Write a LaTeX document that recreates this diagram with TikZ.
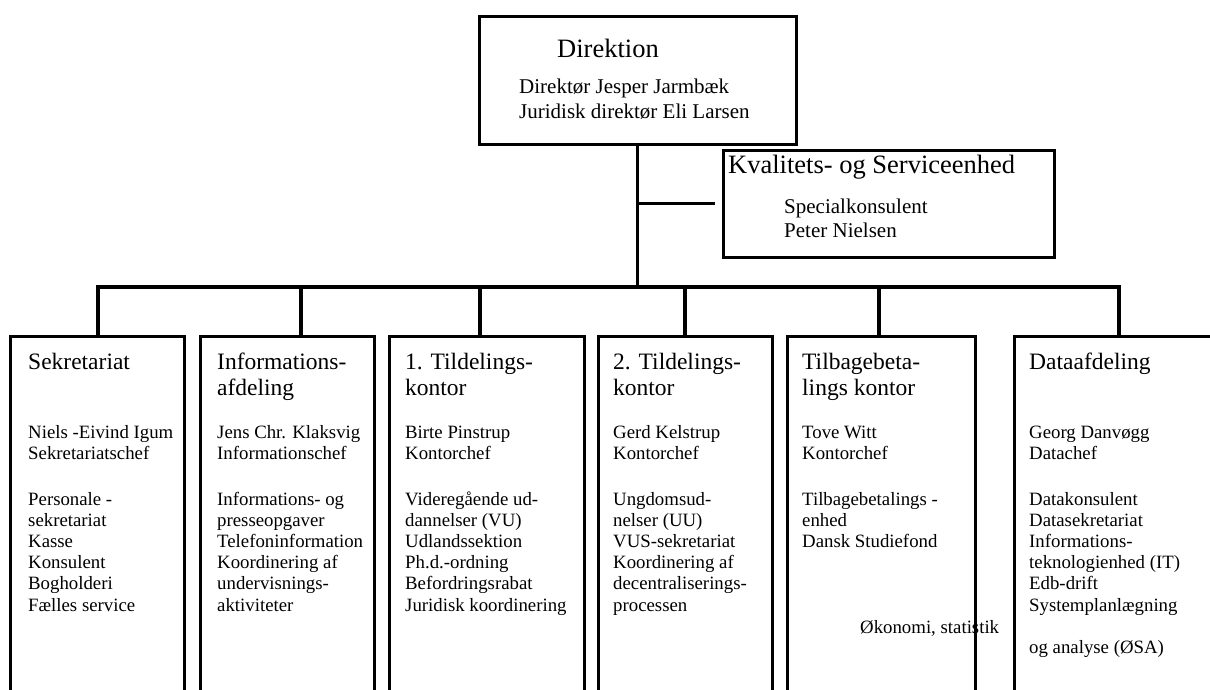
\documentclass[tikz,border=0pt]{standalone}
\usepackage{fontspec}
\setmainfont{Liberation Serif}
\usetikzlibrary{positioning,calc}
\newcommand{\colstack}[1]{\begin{tabular}[t]{@{}l@{}}#1\end{tabular}}

\begin{document}
\begin{tikzpicture}[x=1pt,y=-1pt,
	unit/.style={draw=black,line width=2.6pt,anchor=north west,inner sep=0pt},
	head/.style={anchor=base west,inner sep=0pt,font=\fontsize{23.5}{26}\selectfont},
	bighead/.style={anchor=base west,inner sep=0pt,font=\fontsize{26.5}{30}\selectfont},
	staff/.style={anchor=base west,inner sep=0pt,font=\fontsize{18.8}{21.2}\selectfont},
	topstaff/.style={anchor=base west,inner sep=0pt,font=\fontsize{21}{25}\selectfont},
	wire/.style={line width=3.2pt,line join=miter}]
	\useasboundingbox (0,0) rectangle (1210,689);
	\clip (0,0) rectangle (1210,689);
	\node[unit,minimum width=317pt,minimum height=128pt](Dir) at (478,15) {};
	\node[bighead](DirH) at (557,57) {Direktion};
	\node[topstaff](DirS) at (519,93) {\colstack{Direktør Jesper Jarmbæk\\Juridisk direktør Eli Larsen}};
	\node[unit,minimum width=331pt,minimum height=107pt](KS) at (722,149) {};
	\node[bighead](KSH) at (728,173) {Kvalitets- og Serviceenhed};
	\node[topstaff,font=\fontsize{21}{24}\selectfont](KSS) at (784,213) {\colstack{Specialkonsulent\\Peter Nielsen}};
	\node[unit,minimum width=174pt,minimum height=400pt](Sek) at (9,335) {};
	\node[unit,minimum width=174pt,minimum height=400pt](Inf) at (199,335) {};
	\node[unit,minimum width=195pt,minimum height=400pt](T1) at (388,335) {};
	\node[unit,minimum width=174pt,minimum height=400pt](T2) at (597,335) {};
	\node[unit,minimum width=188pt,minimum height=400pt](TB) at (786,335) {};
	\node[unit,minimum width=212pt,minimum height=400pt](DA) at (1013,335) {};
	\node[head](SekH) at (28,369) {Sekretariat};
	\node[staff](SekP) at (28,438) {\colstack{Niels -Eivind Igum\\Sekretariatschef}};
	\node[staff](SekD) at (28,505) {\colstack{Personale -\\sekretariat\\Kasse\\Konsulent\\Bogholderi\\Fælles service}};
	\node[head](InfH) at (217,369) {\colstack{Informations-\\afdeling}};
	\node[staff](InfP) at (217,438) {\colstack{Jens Chr. Klaksvig\\Informationschef}};
	\node[staff](InfD) at (217,505) {\colstack{Informations- og\\presseopgaver\\Telefoninformation\\Koordinering af\\undervisnings-\\aktiviteter}};
	\node[head](T1H) at (405,369) {\colstack{1. Tildelings-\\kontor}};
	\node[staff](T1P) at (405,438) {\colstack{Birte Pinstrup\\Kontorchef}};
	\node[staff](T1D) at (405,505) {\colstack{Videregående ud-\\dannelser (VU)\\Udlandssektion\\Ph.d.-ordning\\Befordringsrabat\\Juridisk koordinering}};
	\node[head](T2H) at (613,369) {\colstack{2. Tildelings-\\kontor}};
	\node[staff](T2P) at (613,438) {\colstack{Gerd Kelstrup\\Kontorchef}};
	\node[staff](T2D) at (613,505) {\colstack{Ungdomsud-\\nelser (UU)\\VUS-sekretariat\\Koordinering af\\decentraliserings-\\processen}};
	\node[head](TBH) at (802,369) {\colstack{Tilbagebeta-\\lings kontor}};
	\node[staff](TBP) at (802,438) {\colstack{Tove Witt\\Kontorchef}};
	\node[staff](TBD) at (802,505) {\colstack{Tilbagebetalings -\\enhed\\Dansk Studiefond}};
	\node[head](DAH) at (1029,369) {Dataafdeling};
	\node[staff](DAP) at (1029,438) {\colstack{Georg Danvøgg\\Datachef}};
	\node[staff](DAD) at (1029,505) {\colstack{Datakonsulent\\Datasekretariat\\Informations-\\teknologienhed (IT)\\Edb-drift\\Systemplanlægning\\ \\og analyse (ØSA)}};
	\node[staff](OEK) at (860,633) {Økonomi, statistik};
	\coordinate (b1) at (98,287);
	\coordinate (b2) at (301,287);
	\coordinate (b3) at (480,287);
	\coordinate (b4) at (685,287);
	\coordinate (b5) at (879,287);
	\coordinate (b6) at (1119,287);
	\draw[wire] (Dir.south) -- (Dir.south |- b1);
	\draw[wire] (Dir.south |- KS.west) -- ([xshift=-7pt]KS.west);
	\draw[wire] (b1 |- Sek.north) -- (b1) -- (b6) -- (b6 |- DA.north);
	\foreach \b/\n in {b2/Inf,b3/T1,b4/T2,b5/TB}
		\draw[wire] (\b) -- (\b |- \n.north);
\end{tikzpicture}
\end{document}
